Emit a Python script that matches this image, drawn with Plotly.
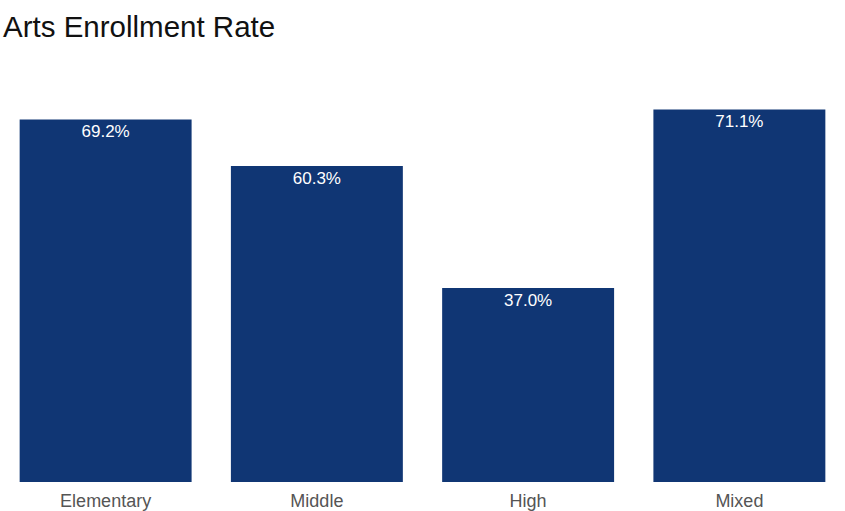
import plotly.graph_objects as go

categories = ["Elementary", "Middle", "High", "Mixed"]
rates = [69.2, 60.3, 37.0, 71.1]
labels = [f"{v:.1f}%" for v in rates]

fig = go.Figure(go.Bar(
    x=categories, y=rates, text=labels,
    textposition="inside", insidetextanchor="end",
    textfont=dict(color="white", size=17, family="Liberation Sans, Arial, sans-serif"),
    marker=dict(color="#103674", line=dict(width=0)),
    hoverinfo="skip",
))

fig.update_layout(
    width=845, height=511,
    margin=dict(l=0, r=0, t=89, b=29),
    paper_bgcolor="white", plot_bgcolor="white",
    bargap=0.186,
    showlegend=False,
    font=dict(family="Liberation Sans, Arial, sans-serif"),
    title=dict(text="Arts Enrollment Rate", x=3/845, xanchor="left",
               y=1-27/511, yanchor="middle", xref="container", yref="container",
               font=dict(size=29.5, color="#111111")),
    xaxis=dict(showgrid=False, showline=False, zeroline=False, ticks="",
               ticklabelstandoff=6,
               tickfont=dict(size=18, color="#555555")),
    yaxis=dict(range=[0, 75], visible=False, showgrid=False, zeroline=False),
)

fig.write_html("out.html", config={"displayModeBar": False},
               post_script="document.body.style.margin='0px';document.body.style.overflow='hidden';")
